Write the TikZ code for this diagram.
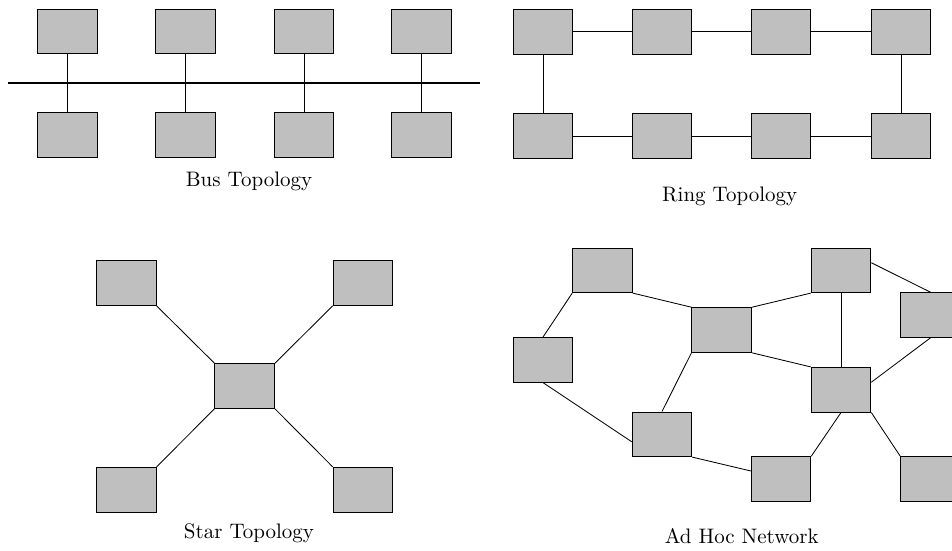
\documentclass[tikz,border=0pt]{standalone}
\begin{document}
\begin{tikzpicture}[x=0.016759cm, y=-0.016759cm,
  box/.style={draw, fill=lightgray, minimum width=1cm, minimum height=0.75cm, inner sep=0pt},
  lbl/.style={anchor=base, inner sep=0pt},
  busline/.style={thick}]
\useasboundingbox (0,0) rectangle (952,550);
\clip (0,0) rectangle (952,550);
% ---------- Bus ----------
\foreach \i/\x in {1/67.3,2/185.5,3/304,4/421.7}{
  \node[box] (bt\i) at (\x,31.5) {};
  \node[box] (bb\i) at (\x,135) {};
}
\coordinate (busL) at (8,83);
\coordinate (busR) at (480,83);
\draw[busline] (busL) -- (busR);
\foreach \i in {1,2,3,4}{\draw (bt\i.south) -- (bb\i.north);}
\node[lbl] (buslbl) at (249,186.7) {Bus Topology};
% ---------- Ring ----------
\foreach \i/\x in {1/543,2/662,3/781,4/901}{
  \node[box] (rt\i) at (\x,31.7) {};
  \node[box] (rb\i) at (\x,136) {};
}
\draw (rt1) -- (rt2) (rt2) -- (rt3) (rt3) -- (rt4);
\draw (rb1) -- (rb2) (rb2) -- (rb3) (rb3) -- (rb4);
\draw (rt1) -- (rb1) (rt4) -- (rb4);
\node[lbl] (ringlbl) at (729.7,201.7) {Ring Topology};
% ---------- Star ----------
\node[box] (sc) at (244.7,386) {};
\node[box] (stl) at (126.3,283) {};
\node[box] (str) at (363,283) {};
\node[box] (sbl) at (126.3,489.7) {};
\node[box] (sbr) at (363,489.7) {};
\draw (sc.north west) -- (stl.south east);
\draw (sc.north east) -- (str.south west);
\draw (sc.south west) -- (sbl.north east);
\draw (sc.south east) -- (sbr.north west);
\node[lbl] (starlbl) at (249,538) {Star Topology};
% ---------- Ad Hoc ----------
\node[box] (A) at (602.5,270.3) {};
\node[box] (B) at (841,270.3) {};
\node[box] (C) at (930.5,315) {};
\node[box] (D) at (721.7,330) {};
\node[box] (E) at (543,359.8) {};
\node[box] (F) at (841,389.7) {};
\node[box] (G) at (662,434.3) {};
\node[box] (H) at (781,479) {};
\node[box] (I) at (930.5,479) {};
\draw (A.south west) -- (E.north);
\draw (A.south east) -- (D.north west);
\draw (E.south) -- ([yshift=-0.125cm]G.west);
\draw (G.north) -- (D.south west);
\draw (G.south east) -- ([yshift=0.135cm]H.west);
\draw (D.north east) -- (B.south west);
\draw (D.south east) -- (F.north west);
\draw (B.south) -- (F.north);
\draw ([yshift=0.127cm]B.east) -- (C.north);
\draw ([yshift=0.125cm]F.east) -- (C.south);
\draw (F.south) -- (H.north east);
\draw (F.south east) -- (I.north west);
\node[lbl] (adlbl) at (741.7,543) {Ad Hoc Network};
\end{tikzpicture}
\end{document}
